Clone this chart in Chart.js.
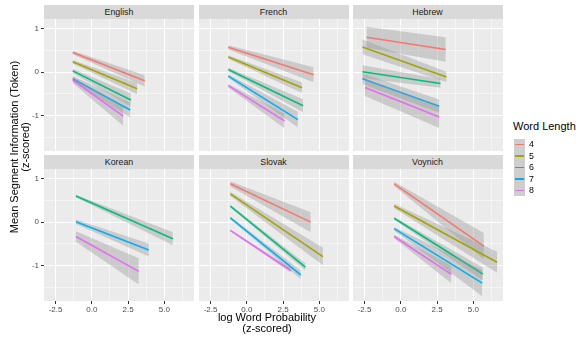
<!DOCTYPE html>
<html>
<head>
<meta charset="utf-8">
<script src="https://cdn.jsdelivr.net/npm/chart.js@4.4.1/dist/chart.umd.min.js"></script>
<style>
  body { margin: 0; background: #fff; font-family: "Liberation Sans", Arial, sans-serif; }
  #wrap { position: relative; width: 576px; height: 338px; overflow: hidden; }
  canvas { position: absolute; }
  .strip { position: absolute; height: 14px; background: #d9d9d9; color: #1a1a1a;
           font-size: 8.8px; line-height: 14px; text-align: center; }
  .title { position: absolute; color: #000; font-size: 11px; line-height: 11px; text-align: center; white-space: nowrap; }
  .leg { position: absolute; font-size: 8.8px; color: #000; }
</style>
</head>
<body>
<div id="wrap"></div>
<script>
const languages = ['English', 'French', 'Hebrew', 'Korean', 'Slovak', 'Voynich'];
const wordLengths = ['4', '5', '6', '7', '8'];
const colors = ['#F8766D', '#A3A500', '#00BF7D', '#00B0F6', '#E76BF3'];
const xTicks = [-2.5, 0, 2.5, 5];
const xMinor = [-1.25, 1.25, 3.75, 6.25];
const yTicks = [-1, 0, 1];
const yMinor = [-1.5, -0.5, 0.5];

// [word length, x start, y start, x end, y end, ci half-width at start, at end]
const englishFit = [
  ['4', -1.32, 0.45, 3.65, -0.20, 0.04, 0.13],
  ['5', -1.32, 0.24, 3.13, -0.38, 0.04, 0.13],
  ['6', -1.32, 0.03, 2.69, -0.64, 0.05, 0.15],
  ['7', -1.32, -0.15, 2.65, -0.87, 0.06, 0.17],
  ['8', -1.32, -0.18, 2.17, -1.01, 0.07, 0.22]
];
const frenchFit = [
  ['4', -1.28, 0.57, 4.61, -0.06, 0.05, 0.17],
  ['5', -1.28, 0.35, 3.81, -0.36, 0.04, 0.12],
  ['6', -1.28, 0.06, 3.88, -0.77, 0.04, 0.15],
  ['7', -1.28, -0.09, 3.52, -1.09, 0.04, 0.18],
  ['8', -1.28, -0.31, 2.60, -1.12, 0.04, 0.17]
];
const hebrewFit = [
  ['4', -2.37, 0.80, 3.10, 0.52, 0.24, 0.28],
  ['5', -2.65, 0.58, 3.15, -0.11, 0.17, 0.12],
  ['6', -2.65, 0.01, 2.74, -0.26, 0.15, 0.10],
  ['7', -2.65, -0.15, 2.65, -0.78, 0.12, 0.15],
  ['8', -2.47, -0.35, 2.65, -1.03, 0.20, 0.25]
];
const koreanFit = [
  ['6', -1.10, 0.60, 5.59, -0.38, 0.03, 0.15],
  ['7', -1.10, 0.01, 3.93, -0.64, 0.05, 0.15],
  ['8', -1.10, -0.33, 3.24, -1.13, 0.12, 0.30]
];
const slovakFit = [
  ['4', -1.14, 0.88, 4.41, 0.00, 0.06, 0.23],
  ['5', -1.14, 0.65, 5.25, -0.79, 0.05, 0.20],
  ['6', -1.14, 0.37, 4.04, -1.03, 0.03, 0.08],
  ['7', -1.14, 0.10, 3.72, -1.21, 0.03, 0.10],
  ['8', -1.14, -0.19, 3.04, -1.11, 0.02, 0.05]
];
const voynichFit = [
  ['4', -0.46, 0.88, 5.73, -0.55, 0.05, 0.30],
  ['5', -0.46, 0.37, 6.64, -0.92, 0.05, 0.24],
  ['6', -0.46, 0.09, 5.66, -1.19, 0.03, 0.15],
  ['7', -0.46, -0.15, 5.62, -1.40, 0.04, 0.30],
  ['8', -0.46, -0.33, 3.49, -1.20, 0.04, 0.20]
];
const fits = [englishFit, frenchFit, hebrewFit, koreanFit, slovakFit, voynichFit];

const wrap = document.getElementById('wrap');
const panelLefts = [44, 198.5, 352.5], panelTops = [19, 169];
const panelW = 150, panelH = 132, axisW = 44, axisH = 20;

const panelBg = {
  id: 'panelBg',
  beforeDraw(chart) {
    const a = chart.chartArea, c = chart.ctx;
    c.save();
    c.fillStyle = '#ebebeb';
    c.fillRect(a.left, a.top, a.right - a.left, a.bottom - a.top);
    c.restore();
  }
};

const addDiv = (cls, text, css) => {
  const d = document.createElement('div');
  d.className = cls;
  d.innerHTML = text;
  Object.assign(d.style, css);
  wrap.appendChild(d);
  return d;
};

// chart.js paints the lowest "order" on top, so later groups get lower orders
const makeDatasets = (fit) => {
  const sets = [];
  let seq = 100;
  fit.forEach(([len, x0, y0, x1, y1, c0, c1]) => {
    const color = colors[wordLengths.indexOf(len)];
    sets.push({ data: [{x: x0, y: y0 + c0}, {x: x1, y: y1 + c1}], borderWidth: 0, pointRadius: 0,
                fill: '+1', backgroundColor: 'rgba(153,153,153,0.4)', order: seq-- });
    sets.push({ data: [{x: x0, y: y0 - c0}, {x: x1, y: y1 - c1}], borderWidth: 0, pointRadius: 0,
                fill: false, order: seq-- });
    sets.push({ data: [{x: x0, y: y0}, {x: x1, y: y1}], borderColor: color, borderWidth: 1.6,
                pointRadius: 0, fill: false, order: seq-- });
  });
  return sets;
};

const noPad = (s) => { s.paddingTop = 0; s.paddingBottom = 0; s.paddingLeft = 0; s.paddingRight = 0; };

languages.forEach((lang, i) => {
  const col = i % 3, row = Math.floor(i / 3);
  const left = panelLefts[col], top = panelTops[row];
  const showY = col === 0, showX = row === 1;

  addDiv('strip', lang, { left: left + 'px', top: (top - 14) + 'px', width: panelW + 'px' });

  const cv = document.createElement('canvas');
  cv.width = panelW + axisW;
  cv.height = panelH + axisH;
  cv.style.left = (left - axisW) + 'px';
  cv.style.top = top + 'px';
  wrap.appendChild(cv);

  new Chart(cv, {
    type: 'line',
    data: { datasets: makeDatasets(fits[i]) },
    plugins: [panelBg],
    options: {
      responsive: false,
      animation: false,
      layout: { padding: 0 },
      plugins: { legend: { display: false }, tooltip: { enabled: false } },
      scales: {
        x: {
          type: 'linear', min: -3.3, max: 7.05,
          afterBuildTicks: (s) => { s.ticks = [...xTicks, ...xMinor].sort((a, b) => a - b).map(v => ({ value: v })); },
          afterFit: (s) => { s.height = axisH; noPad(s); },
          border: { display: false },
          grid: {
            color: '#fff',
            lineWidth: (c) => xTicks.includes(c.tick.value) ? 1 : 0.5,
            drawTicks: showX, tickLength: 3,
            tickColor: (c) => xTicks.includes(c.tick.value) ? '#333' : 'rgba(0,0,0,0)'
          },
          ticks: {
            display: showX, padding: 1, color: '#4d4d4d', maxRotation: 0, autoSkip: false,
            font: { family: 'Liberation Sans', size: 8 },
            callback: (v) => xTicks.includes(v) ? v.toFixed(1) : ''
          }
        },
        y: {
          type: 'linear', min: -1.81, max: 1.22,
          afterBuildTicks: (s) => { s.ticks = [...yTicks, ...yMinor].sort((a, b) => a - b).map(v => ({ value: v })); },
          afterFit: (s) => { s.width = axisW; noPad(s); },
          border: { display: false },
          grid: {
            color: '#fff',
            lineWidth: (c) => yTicks.includes(c.tick.value) ? 1 : 0.5,
            drawTicks: showY, tickLength: 3,
            tickColor: (c) => yTicks.includes(c.tick.value) ? '#333' : 'rgba(0,0,0,0)'
          },
          ticks: {
            display: showY, padding: 2, color: '#4d4d4d', autoSkip: false,
            font: { family: 'Liberation Sans', size: 8 },
            callback: (v) => yTicks.includes(v) ? String(v) : ''
          }
        }
      }
    }
  });
});

// axis titles
addDiv('title', 'log Word Probability<br>(z-scored)', { left: '167px', width: '200px', top: '312px' });
addDiv('title', 'Mean Segment Information (Token)<br>(z-scored)',
  { left: '-80px', top: '136px', width: '200px', transform: 'rotate(-90deg)' });

// legend
addDiv('leg', 'Word Length', { left: '513px', top: '120px', fontSize: '11px' });
wordLengths.forEach((len, k) => {
  const y = 138.5 + k * 11.6;
  addDiv('leg', '', { left: '514px', top: y + 'px', width: '11px', height: '11.6px', background: '#cecece' });
  addDiv('leg', '', { left: '515px', top: (y + 5) + 'px', width: '9px', height: '1.6px', background: colors[k] });
  addDiv('leg', len, { left: '529px', top: (y + 0.5) + 'px', lineHeight: '11px' });
});
</script>
</body>
</html>
